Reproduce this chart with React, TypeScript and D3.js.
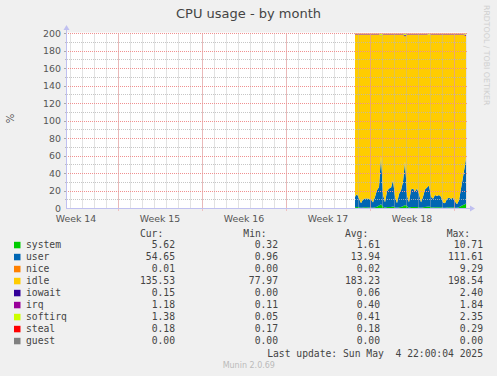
import React from "react";
import * as d3 from "d3";

// ---- data ----
const title = "CPU usage - by month";
const yTicks = [0, 20, 40, 60, 80, 100, 120, 140, 160, 180, 200];
const weekLabels = ["Week 14", "Week 15", "Week 16", "Week 17", "Week 18"];
// week boundaries, in hours from the left edge of the plot
const weekBounds = [-66, 102, 270, 438, 606, 774];
// sample times (hours from left edge)
const sampleHours = [...d3.range(576, 800, 4), 798];

const system = [1.5, 1.6, 1.3, 1.0, 1.2, 1.3, 1.3, 1.2, 1.2, 1.0, 1.4, 2.0, 3.5, 5.0, 2.0, 1.0, 1.6, 1.8, 1.8, 2.2, 1.4, 0.9, 1.5, 1.8, 2.5, 4.0, 3.0, 1.0, 1.8, 1.8, 1.6, 1.8, 1.5, 1.0, 1.3, 1.8, 2.0, 2.2, 1.4, 1.2, 1.5, 1.4, 1.5, 1.4, 1.0, 0.9, 1.2, 1.3, 1.2, 1.3, 1.0, 0.8, 1.5, 3.0, 4.0, 5.0, 5.6];
const user = [12, 15, 10, 5, 9, 10, 10, 10, 9, 6, 12, 19, 21, 55, 14, 6, 18, 21, 22, 30, 12, 5, 15, 19, 28, 50, 12, 6, 20, 21, 18, 21, 15, 6, 12, 20, 22, 24, 12, 10, 14, 13, 14, 12, 6, 5, 10, 11, 10, 11, 7, 4, 8, 20, 32, 45, 52];
const nice = [0.02, 0.02, 0.02, 0.02, 0.02, 0.02, 0.02, 0.02, 0.02, 0.02, 0.02, 0.02, 0.02, 0.02, 0.02, 0.02, 0.02, 0.02, 0.02, 0.02, 0.02, 0.02, 0.02, 0.02, 0.02, 0.02, 0.02, 0.02, 0.02, 0.02, 0.02, 0.02, 0.02, 0.02, 0.02, 0.02, 0.02, 0.02, 0.02, 0.02, 0.02, 0.02, 0.02, 0.02, 0.02, 0.02, 0.02, 0.02, 0.02, 0.02, 0.02, 0.02, 0.02, 0.02, 0.02, 0.02, 0.01];
const idle = [185.45, 182.35, 187.65, 192.95, 188.75, 187.65, 187.65, 187.75, 188.75, 191.95, 185.55, 177.95, 174.45, 137.35, 182.95, 191.95, 179.35, 176.15, 175.15, 166.75, 185.55, 193.05, 182.45, 178.15, 168.45, 142.6, 183.95, 191.95, 177.15, 176.15, 179.35, 176.15, 182.45, 191.95, 185.65, 177.15, 174.95, 171.95, 185.55, 187.75, 183.45, 184.55, 183.45, 185.55, 191.95, 193.05, 187.75, 186.65, 187.75, 186.65, 190.95, 194.15, 189.45, 175.95, 162.95, 147.37, 139.5];
const iowait = [0.05, 0.05, 0.05, 0.05, 0.05, 0.05, 0.05, 0.05, 0.05, 0.05, 0.05, 0.05, 0.05, 0.05, 0.05, 0.05, 0.05, 0.05, 0.05, 0.05, 0.05, 0.05, 0.05, 0.05, 0.05, 1.0, 0.05, 0.05, 0.05, 0.05, 0.05, 0.05, 0.05, 0.05, 0.05, 0.05, 0.05, 0.05, 0.05, 0.05, 0.05, 0.05, 0.05, 0.05, 0.05, 0.05, 0.05, 0.05, 0.05, 0.05, 0.05, 0.05, 0.05, 0.05, 0.05, 0.05, 0.15];
const irq = [0.4, 0.4, 0.4, 0.4, 0.4, 0.4, 0.4, 0.4, 0.4, 0.4, 0.4, 0.4, 0.4, 0.4, 0.4, 0.4, 0.4, 0.4, 0.4, 0.4, 0.4, 0.4, 0.4, 0.4, 0.4, 0.4, 0.4, 0.4, 0.4, 0.4, 0.4, 0.4, 0.4, 0.4, 0.4, 0.4, 0.4, 0.4, 0.4, 0.4, 0.4, 0.4, 0.4, 0.4, 0.4, 0.4, 0.4, 0.4, 0.4, 0.4, 0.4, 0.4, 0.4, 0.4, 0.4, 1.0, 1.18];
const softirq = [0.4, 0.4, 0.4, 0.4, 0.4, 0.4, 0.4, 0.4, 0.4, 0.4, 0.4, 0.4, 0.4, 2.0, 0.4, 0.4, 0.4, 0.4, 0.4, 0.4, 0.4, 0.4, 0.4, 0.4, 0.4, 1.8, 0.4, 0.4, 0.4, 0.4, 0.4, 0.4, 0.4, 0.4, 0.4, 0.4, 0.4, 1.2, 0.4, 0.4, 0.4, 0.4, 0.4, 0.4, 0.4, 0.4, 0.4, 0.4, 0.4, 0.4, 0.4, 0.4, 0.4, 0.4, 0.4, 1.38, 1.38];
const steal = [0.18, 0.18, 0.18, 0.18, 0.18, 0.18, 0.18, 0.18, 0.18, 0.18, 0.18, 0.18, 0.18, 0.18, 0.18, 0.18, 0.18, 0.18, 0.18, 0.18, 0.18, 0.18, 0.18, 0.18, 0.18, 0.18, 0.18, 0.18, 0.18, 0.18, 0.18, 0.18, 0.18, 0.18, 0.18, 0.18, 0.18, 0.18, 0.18, 0.18, 0.18, 0.18, 0.18, 0.18, 0.18, 0.18, 0.18, 0.18, 0.18, 0.18, 0.18, 0.18, 0.18, 0.18, 0.18, 0.18, 0.18];
const guest = [0, 0, 0, 0, 0, 0, 0, 0, 0, 0, 0, 0, 0, 0, 0, 0, 0, 0, 0, 0, 0, 0, 0, 0, 0, 0, 0, 0, 0, 0, 0, 0, 0, 0, 0, 0, 0, 0, 0, 0, 0, 0, 0, 0, 0, 0, 0, 0, 0, 0, 0, 0, 0, 0, 0, 0, 0];

const seriesNames = ["system", "user", "nice", "idle", "iowait", "irq", "softirq", "steal", "guest"];
const seriesColors = ["#00CC00", "#0066B3", "#FF8000", "#FFCC00", "#330099", "#990099", "#CCFF00", "#FF0000", "#808080"];
const seriesValues = [system, user, nice, idle, iowait, irq, softirq, steal, guest];

const legendCur = ["5.62", "54.65", "0.01", "135.53", "0.15", "1.18", "1.38", "0.18", "0.00"];
const legendMin = ["0.32", "0.96", "0.00", "77.97", "0.00", "0.11", "0.05", "0.17", "0.00"];
const legendAvg = ["1.61", "13.94", "0.02", "183.23", "0.06", "0.40", "0.41", "0.18", "0.00"];
const legendMax = ["10.71", "111.61", "9.29", "198.54", "2.40", "1.84", "2.35", "0.29", "0.00"];
const lastUpdate = "Last update: Sun May  4 22:00:04 2025";
const footer = "Munin 2.0.69";

// ---- layout ----
const W = 497, H = 376;
const PL = 67, PR = 467, PT = 33.5, PB = 208.5;
const sans = "'DejaVu Sans', Verdana, sans-serif";
const mono = "'DejaVu Sans Mono', monospace";

export default function App() {
  const x = d3.scaleLinear().domain([0, 800]).range([PL, PR]);
  const y = d3.scaleLinear().domain([0, 200]).range([PB, PT]);

  const rows = sampleHours.map((h, i) => {
    const r: any = { h };
    seriesNames.forEach((n, k) => (r[n] = seriesValues[k][i]));
    return r;
  });
  const stacked = d3.stack().keys(seriesNames)(rows as any);
  const area = d3
    .area<any>()
    .x((d: any) => x(d.data.h))
    .y0((d: any) => y(d[0]))
    .y1((d: any) => y(d[1]));

  const minorH = d3.range(10, 201, 20);
  const majorH = yTicks.filter((v) => v > 0);
  const dayLines = d3.range(6, 800, 24);
  const weekLines = weekBounds.filter((h) => h >= 0 && h <= 800);

  const minorColor = "#b8b8b8";
  const majorColor = "#f09090";
  const axisColor = "#c0c0f0";

  const rowY = (i: number) => 248.3 + i * 12;

  return (
    <svg
      width={W}
      height={H}
      style={{ position: "absolute", left: 0, top: 0, background: "#F0F0F0" }}
    >
      <rect x={0} y={0} width={W} height={H} fill="#F0F0F0" />
      <text x={248.5} y={18} textAnchor="middle" fontFamily={sans} fontSize={13} fill="#444">
        {title}
      </text>
      <text
        transform="translate(484,5) rotate(90)"
        fontFamily={sans}
        fontSize={7.8}
        fill="#cfcfcf"
      >
        RRDTOOL / TOBI OETIKER
      </text>
      <text
        transform="translate(13.5,118.5) rotate(-90)"
        textAnchor="middle"
        fontFamily={sans}
        fontSize={10}
        fill="#555"
      >
        %
      </text>

      {/* canvas */}
      <rect x={PL} y={PT - 1} width={PR - PL} height={PB - PT + 1} fill="#ffffff" />

      {/* areas */}
      {stacked.map((s: any, k: number) => (
        <path key={seriesNames[k]} d={area(s) || ""} fill={seriesColors[k]} />
      ))}

      {/* grid */}
      {dayLines.map((h) => (
        <line
          key={"d" + h}
          x1={Math.round(x(h)) + 0.5}
          x2={Math.round(x(h)) + 0.5}
          y1={PT}
          y2={PB}
          stroke={minorColor}
          strokeDasharray="1,1"
          opacity={0.8}
        />
      ))}
      {minorH.map((v) => (
        <line
          key={"mh" + v}
          x1={PL}
          x2={PR}
          y1={Math.floor(y(v)) + 0.5}
          y2={Math.floor(y(v)) + 0.5}
          stroke={minorColor}
          strokeDasharray="1,1"
          opacity={0.8}
        />
      ))}
      {weekLines.map((h) => (
        <line
          key={"w" + h}
          x1={Math.round(x(h)) + 0.5}
          x2={Math.round(x(h)) + 0.5}
          y1={PT}
          y2={PB + 3}
          stroke={majorColor}
          strokeDasharray="1,1"
        />
      ))}
      {majorH.map((v) => (
        <line
          key={"Mh" + v}
          x1={PL - 3}
          x2={PR}
          y1={Math.floor(y(v)) + 0.5}
          y2={Math.floor(y(v)) + 0.5}
          stroke={majorColor}
          strokeDasharray="1,1"
        />
      ))}
      {majorH.map((v) => (
        <line
          key={"tk" + v}
          x1={PL - 3}
          x2={PL}
          y1={Math.floor(y(v)) + 0.5}
          y2={Math.floor(y(v)) + 0.5}
          stroke="#aaa"
        />
      ))}
      {minorH.map((v) => (
        <line
          key={"tm" + v}
          x1={PL - 2}
          x2={PL}
          y1={Math.floor(y(v)) + 0.5}
          y2={Math.floor(y(v)) + 0.5}
          stroke="#bbb"
        />
      ))}

      {/* axes */}
      <line x1={PL - 0.5} x2={PL - 0.5} y1={PB} y2={27} stroke={axisColor} />
      <path d={`M${PL - 3.5},${30} L${PL - 0.5},${25} L${PL + 2.5},${30} Z`} fill={axisColor} />
      <line x1={PL - 1} x2={PR + 4} y1={PB} y2={PB} stroke={axisColor} />
      <path d={`M${PR + 3},${PB - 3} L${PR + 8},${PB} L${PR + 3},${PB + 3} Z`} fill={axisColor} />

      {/* y tick labels */}
      {yTicks.map((v) => (
        <text
          key={"yl" + v}
          x={61}
          y={y(v) + 3.3}
          textAnchor="end"
          fontFamily={sans}
          fontSize={9.4}
          fill="#555"
        >
          {v}
        </text>
      ))}

      {/* week labels */}
      {weekLabels.map((l, i) => (
        <text
          key={l}
          x={(x(weekBounds[i]) + x(weekBounds[i + 1])) / 2}
          y={221.5}
          textAnchor="middle"
          fontFamily={sans}
          fontSize={9.4}
          fill="#555"
        >
          {l}
        </text>
      ))}

      {/* legend */}
      <g fontFamily={mono} fontSize={9.7} fill="#444">
        <text x={163.3} y={236.5} textAnchor="end">Cur:</text>
        <text x={266.7} y={236.5} textAnchor="end">Min:</text>
        <text x={368.3} y={236.5} textAnchor="end">Avg:</text>
        <text x={470} y={236.5} textAnchor="end">Max:</text>
        {seriesNames.map((n, i) => (
          <g key={"lg" + n}>
            <rect x={14} y={rowY(i) - 6.5} width={6.5} height={6.5} fill={seriesColors[i]} />
            <text x={26} y={rowY(i)}>{n}</text>
            <text x={175} y={rowY(i)} textAnchor="end">{legendCur[i]}</text>
            <text x={278} y={rowY(i)} textAnchor="end">{legendMin[i]}</text>
            <text x={380} y={rowY(i)} textAnchor="end">{legendAvg[i]}</text>
            <text x={483} y={rowY(i)} textAnchor="end">{legendMax[i]}</text>
          </g>
        ))}
        <text x={483} y={356.7} textAnchor="end" style={{ whiteSpace: "pre" }}>
          {lastUpdate}
        </text>
      </g>
      <text x={248.8} y={367.7} textAnchor="middle" fontFamily={sans} fontSize={8} fill="#bbb">
        {footer}
      </text>
    </svg>
  );
}
